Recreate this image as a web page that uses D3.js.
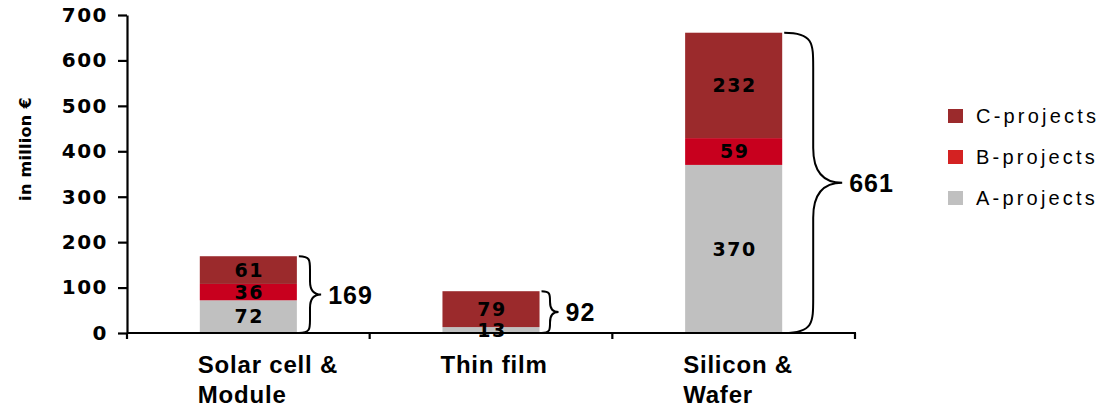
<!DOCTYPE html>
<html>
<head>
<meta charset="utf-8">
<script src="https://cdn.jsdelivr.net/npm/d3@7"></script>
<style>
  body { margin: 0; background: #fff; }
</style>
</head>
<body>
<svg id="chart" width="1099" height="408" font-family="Liberation Sans, Arial, sans-serif"></svg>
<script>
// data
const categories = ["Solar cell & Module", "Thin film", "Silicon & Wafer"];
const categoryLines = [["Solar cell &", "Module"], ["Thin film"], ["Silicon &", "Wafer"]];
const seriesNames = ["A-projects", "B-projects", "C-projects"];
const aProjects = [72, 13, 370];
const bProjects = [36, 0, 59];
const cProjects = [61, 79, 232];
const totals = [169, 92, 661];
const yTicks = [0, 100, 200, 300, 400, 500, 600, 700];

const colors = { "A-projects": "#c0c0c0", "B-projects": "#c8001e", "C-projects": "#9b2a2c" };
const legendColors = { "A-projects": "#c0c0c0", "B-projects": "#d42222", "C-projects": "#9b2a2c" };
const numFont = "DejaVu Sans, sans-serif";
const textFont = "Liberation Sans, Arial, sans-serif";

const svg = d3.select("#chart");

const x = d3.scaleBand().domain(categories).range([127, 855]).paddingInner(0.6).paddingOuter(0.3);
const y = d3.scaleLinear().domain([0, 700]).range([333, 15]);

const rows = categories.map((c, i) => ({
    cat: c, "A-projects": aProjects[i], "B-projects": bProjects[i], "C-projects": cProjects[i]
}));
const stacked = d3.stack().keys(seriesNames)(rows);

// bars
stacked.forEach(layer => {
    svg.append("g").selectAll("rect")
        .data(layer)
        .join("rect")
        .attr("x", d => x(d.data.cat))
        .attr("y", d => y(d[1]))
        .attr("width", x.bandwidth())
        .attr("height", d => y(d[0]) - y(d[1]))
        .attr("fill", colors[layer.key]);
});

// value labels
stacked.forEach(layer => {
    svg.append("g").selectAll("text")
        .data(layer.filter(d => d[1] - d[0] > 0))
        .join("text")
        .attr("x", d => x(d.data.cat) + x.bandwidth() / 2 + 1)
        .attr("y", d => (y(d[0]) + y(d[1])) / 2)
        .attr("dy", "0.36em")
        .attr("text-anchor", "middle")
        .attr("font-family", numFont)
        .attr("font-weight", "bold")
        .attr("font-size", 19)
        .attr("letter-spacing", 1.5)
        .text(d => d[1] - d[0]);
});

// y axis
const yAxis = svg.append("g")
    .attr("transform", "translate(127,0)")
    .call(d3.axisLeft(y).tickValues(yTicks).tickSize(9).tickPadding(10).tickSizeOuter(0));
yAxis.select(".domain").attr("stroke", "#000").attr("stroke-width", 2.2);
yAxis.selectAll(".tick line").attr("stroke", "#000").attr("stroke-width", 2.2);
yAxis.selectAll(".tick text")
    .attr("font-size", 20).attr("font-weight", "bold").attr("fill", "#000")
    .attr("letter-spacing", 1.5)
    .attr("font-family", numFont);

// x axis line and boundary ticks
svg.append("line")
    .attr("x1", 127).attr("x2", 856)
    .attr("y1", y(0)).attr("y2", y(0))
    .attr("stroke", "#000").attr("stroke-width", 2.2);
const bounds = categories.map(c => x(c) - x.step() * 0.3).concat([x(categories[2]) + x.bandwidth() + x.step() * 0.3]);
svg.append("g").selectAll("line")
    .data(bounds)
    .join("line")
    .attr("x1", d => d).attr("x2", d => d)
    .attr("y1", y(0)).attr("y2", y(0) + 6)
    .attr("stroke", "#000").attr("stroke-width", 2.2);

// category labels
categoryLines.forEach((lines, i) => {
    const t = svg.append("text")
        .attr("x", x(categories[i]) - 2)
        .attr("y", 373)
        .attr("font-family", textFont)
        .attr("font-size", 24)
        .attr("font-weight", "bold")
        .attr("letter-spacing", 0.8);
    lines.forEach((ln, j) => {
        t.append("tspan").attr("x", x(categories[i]) - 2).attr("dy", j === 0 ? 0 : 30).text(ln);
    });
});

// y title
svg.append("text")
    .attr("transform", `translate(31,149) rotate(-90)`)
    .attr("text-anchor", "middle")
    .attr("font-family", numFont)
    .attr("font-size", 16)
    .attr("font-weight", "bold")
    .attr("letter-spacing", 0.3)
    .text("in million €");

// braces with totals
function bracePath(x0, yTop, yBot, w) {
    const mid = (yTop + yBot) / 2;
    const xm = x0 + w / 2;
    const r = Math.min(w / 2 * 1.2, (yBot - yTop) / 4);
    return `M${x0},${yTop}` +
        `C${xm},${yTop} ${xm},${yTop + r * 0.3} ${xm},${yTop + r}` +
        `L${xm},${mid - r}` +
        `C${xm},${mid - r * 0.2} ${xm + w / 4},${mid} ${x0 + w},${mid}` +
        `C${xm + w / 4},${mid} ${xm},${mid + r * 0.2} ${xm},${mid + r}` +
        `L${xm},${yBot - r}` +
        `C${xm},${yBot - r * 0.3} ${xm},${yBot} ${x0},${yBot}`;
}
totals.forEach((tot, i) => {
    const x0 = x(categories[i]) + x.bandwidth() + 2;
    const h = y(0) - y(tot);
    const w = Math.max(Math.min(h * 0.29, 58), 17);
    svg.append("path")
        .attr("d", bracePath(x0, y(tot), y(0), w))
        .attr("fill", "none")
        .attr("stroke", "#000")
        .attr("stroke-width", 2);
    svg.append("text")
        .attr("x", x0 + w + 7)
        .attr("y", (y(tot) + y(0)) / 2)
        .attr("dy", "0.36em")
        .attr("font-family", textFont)
        .attr("font-size", 25)
        .attr("font-weight", "bold")
        .attr("letter-spacing", 1)
        .text(tot);
});

// legend
const legendOrder = ["C-projects", "B-projects", "A-projects"];
const lg = svg.append("g").selectAll("g")
    .data(legendOrder)
    .join("g")
    .attr("transform", (d, i) => `translate(948,${116 + i * 41})`);
lg.append("rect")
    .attr("x", 0).attr("y", -7)
    .attr("width", 15).attr("height", 14)
    .attr("fill", d => legendColors[d]);
lg.append("text")
    .attr("x", 28).attr("y", 0).attr("dy", "0.36em")
    .attr("font-family", textFont)
    .attr("font-size", 20)
    .attr("letter-spacing", 3.2)
    .text(d => d);
</script>
</body>
</html>
